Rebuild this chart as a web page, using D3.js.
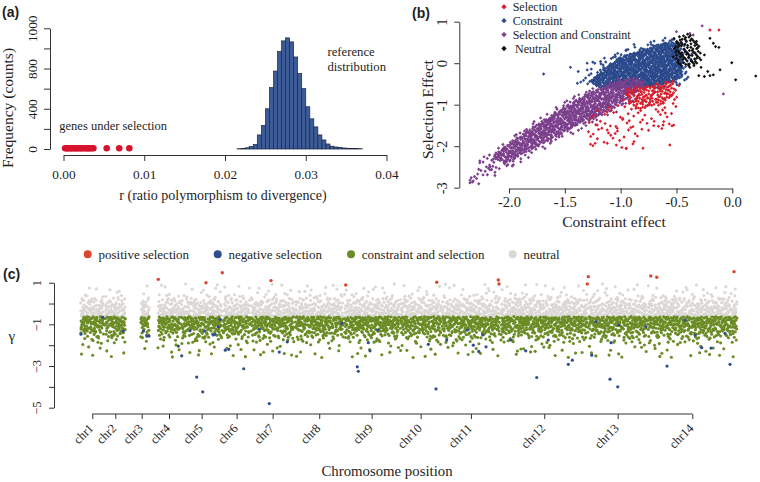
<!DOCTYPE html>
<html><head><meta charset="utf-8">
<script src="https://cdn.jsdelivr.net/npm/d3@7"></script>
<style>
body{margin:0;background:#fff;}
svg{display:block;}
text{font-family:"Liberation Serif","Times New Roman",serif;fill:#1e1e1e;}
.plab{font-family:"Liberation Sans",Arial,sans-serif;font-weight:bold;}
</style></head><body>
<svg id="fig" width="760" height="482"></svg>
<script>
// ================= Panel (a) data =================
const histBinStart = [0.0215,0.0220,0.0225,0.0230,0.0235,0.0240,0.0245,0.0250,0.0255,0.0260,0.0265,0.0270,0.0275,0.0280,0.0285,0.0290,0.0295,0.0300,0.0305,0.0310,0.0315,0.0320,0.0325,0.0330,0.0335,0.0340,0.0345,0.0350,0.0355,0.0360,0.0365];
const histCounts   = [3,6,12,25,45,140,235,400,610,775,970,1075,1105,1065,915,750,600,420,300,220,140,90,50,28,20,15,10,7,5,4,3];
const histBinWidth = 0.0005;
const selectedGenesR = [0.0002,0.0004,0.0005,0.0007,0.0009,0.0010,0.0012,0.0014,0.0015,0.0017,0.0019,0.0021,0.0022,0.0024,0.0026,0.0028,0.0030,0.0031,0.0033,0.0035,0.0037,0.00535,0.0069,0.00815];
const aXTicks = [0,0.01,0.02,0.03,0.04];
const aYTicks = [0,200,400,600,800,1000,1200];
const aYTickLabels = ["0","","400","","800","","1000"];

// ================= Panel (b) data =================
const bXTicks = [-2,-1.5,-1,-0.5,0];
const bYTicks = [-3,-2,-1,0,1];
const bLegend = ["Selection","Constraint","Selection and Constraint","Neutral"];
const bColors = {"Selection":"#d81e2c","Constraint":"#2b4a8c","Selection and Constraint":"#7b3f8c","Neutral":"#111111"};
const bBlueCore   = [[-1.27,-0.45],[-1.2,-0.2],[-1.0,0.15],[-0.8,0.32],[-0.6,0.5],[-0.48,0.5],[-0.45,0.15],[-0.45,-0.35],[-0.6,-0.5],[-0.8,-0.58],[-1.05,-0.6],[-1.2,-0.58]];
const bBlueHalo   = [[-1.4,-0.5],[-1.25,0.05],[-1.0,0.3],[-0.8,0.45],[-0.6,0.62],[-0.42,0.58],[-0.35,0.2],[-0.4,-0.45],[-0.55,-0.58],[-0.9,-0.65],[-1.2,-0.65]];
const bPurpleCore = [[-2.15,-2.25],[-1.9,-1.75],[-1.65,-1.3],[-1.4,-0.88],[-1.2,-0.62],[-1.0,-0.42],[-0.85,-0.35],[-0.78,-0.55],[-0.95,-0.85],[-1.1,-1.12],[-1.35,-1.45],[-1.6,-1.8],[-1.85,-2.15],[-2.05,-2.45]];
const bPurpleHalo = [[-2.4,-2.95],[-2.25,-2.3],[-2.0,-1.85],[-1.75,-1.35],[-1.5,-0.9],[-1.3,-0.6],[-1.1,-0.42],[-0.9,-0.3],[-0.75,-0.5],[-0.85,-0.85],[-1.05,-1.2],[-1.3,-1.55],[-1.55,-1.9],[-1.8,-2.25],[-2.05,-2.6],[-2.3,-2.95]];
const bRedCore    = [[-0.95,-0.62],[-0.8,-0.55],[-0.65,-0.48],[-0.52,-0.4],[-0.52,-0.72],[-0.62,-0.98],[-0.8,-1.12],[-0.95,-0.98]];
const bRedHalo    = [[-1.3,-1.2],[-1.05,-0.92],[-0.95,-0.65],[-0.75,-0.55],[-0.55,-0.4],[-0.45,-0.45],[-0.5,-1.0],[-0.52,-1.55],[-0.7,-1.65],[-0.9,-2.1],[-1.1,-2.0],[-1.3,-2.0]];
const bBlackCore  = [[-0.53,0.62],[-0.4,0.7],[-0.3,0.6],[-0.27,0.1],[-0.33,-0.12],[-0.45,-0.1],[-0.53,0.15]];
const bCloudCounts = {blueCore:900, blueHalo:220, purpleCore:760, purpleHalo:280, redCore:130, redHalo:100, blackCore:90};
// individually readable outliers
const bBlueExtra   = [[-1.69,-0.26],[-1.30,0.0],[-1.18,0.04],[-0.95,0.32],[-1.45,-0.1],[-1.38,-0.2],[-0.88,0.45],[-1.05,0.2]];
const bPurpleExtra = [[-0.27,0.90],[-0.38,0.72],[-0.50,0.76],[-0.08,-0.74],[-0.35,0.68],[-2.35,-2.88],[-2.17,-2.57],[-2.17,-2.5]];
const bRedExtra    = [[-1.27,-1.95],[-1.12,-1.93],[-0.95,-2.05],[-0.80,-2.05],[-0.56,-1.97],[-0.62,-1.49],[-0.54,-1.51],[-1.21,-1.49],[-1.12,-1.61],[-1.03,-1.57],[-0.89,-1.53],[-0.53,-0.97],[-0.12,0.80],[-0.20,0.80],[-0.6,-1.2],[-0.7,-1.4]];
const bBlackExtra  = [[-0.005,0.01],[0.03,-0.40],[0.21,-0.31],[-0.11,-0.16],[-0.17,0.48],[-0.2,0.6],[-0.3,-0.3],[-0.25,-0.32],[-0.2,-0.3],[-0.17,-0.28],[-0.22,-0.2],[-0.28,-0.1],[-0.15,0.4],[-0.25,0.2],[-0.32,0.35],[-0.12,0.38]];

// ================= Panel (c) data =================
const chrNames = ["chr1","chr2","chr3","chr4","chr5","chr6","chr7","chr8","chr9","chr10","chr11","chr12","chr13","chr14"];
const chrEnds  = [172,322,542,704,999,1194,1503,1846,2237,2532,2941,3558,3969,4603];   // gene index
const chrGeneSpans = [[4,168],[176,318],[425,485],[546,700],[708,995],[1003,1190],[1198,1499],[1507,1842],[1850,2233],[2241,2528],[2536,2937],[2945,3554],[3562,3965],[3973,4599]];
const cYTicks = [-5,-4,-3,-2,-1,0,1];
const cYTickLabels = ["\u22125","","\u22123","","\u22121","","1"];
const cLegend = ["positive selection","negative selection","constraint and selection","neutral"];
const cColors = {"positive selection":"#d9472f","negative selection":"#2f4e90","constraint and selection":"#6b8c24","neutral":"#dbd7d4"};
const cGreenShare = 0.56;
const cQuantFrac = [0,0.1,0.2,0.3,0.4,0.5,0.6,0.7,0.8,0.9,0.95,1];
const cGreenQuant = [-0.63,-0.7,-0.78,-0.87,-0.96,-1.05,-1.15,-1.27,-1.42,-1.65,-1.9,-2.6];
const cGreyQuant  = [-0.63,-0.58,-0.5,-0.42,-0.34,-0.25,-0.15,-0.05,0.08,0.25,0.45,0.95];
const cRed  = [[548,1.16],[882,1.0],[996,1.48],[1337,1.10],[1860,0.89],[2497,1.02],[2928,1.13],[2933,0.94],[3551,0.94],[3558,1.29],[3995,1.32],[4037,1.26],[4578,1.53]];
const cBlue = [[7,-1.47],[159,-0.66],[303,-1.32],[443,-1.32],[467,-1.56],[483,-1.56],[688,-2.04],[712,-2.51],[770,-1.31],[817,-3.53],[859,-4.24],[873,-1.32],[933,-1.51],[945,-1.47],[968,-1.12],[980,-0.76],[1017,-2.24],[1041,-2.20],[1146,-3.13],[1253,-1.23],[1325,-4.80],[1395,-2.33],[1451,-1.84],[1832,-0.95],[1941,-3.04],[1948,-3.25],[2018,-1.88],[2030,-2.27],[2084,-1.27],[2438,-1.96],[2492,-4.10],[2567,-1.75],[2711,-1.27],[2753,-2.0],[2791,-2.30],[2819,-1.51],[2842,-2.08],[3015,-1.75],[3120,-2.27],[3197,-3.55],[3278,-1.75],[3418,-2.92],[3446,-2.72],[3582,-2.48],[3612,-0.88],[3710,-3.63],[3717,-1.88],[3764,-4.0],[3771,-1.03],[3962,-1.12],[4109,-3.0],[4235,-0.79],[4305,-1.51],[4352,-2.12],[4417,-2.14],[4515,-1.43],[4550,-2.92]];

// ================= helpers =================
function halton(i, b){ let f=1, r=0; while(i>0){ f/=b; r+=f*(i%b); i=Math.floor(i/b);} return r; }
function fillOutline(poly, n, offset){
  const xs=poly.map(p=>p[0]), ys=poly.map(p=>p[1]);
  const x0=d3.min(xs), x1=d3.max(xs), y0=d3.min(ys), y1=d3.max(ys);
  const out=[]; let i=offset;
  while(out.length<n && i<offset+n*60){ i++;
    const p=[x0+halton(i,2)*(x1-x0), y0+halton(i,3)*(y1-y0)];
    if(d3.polygonContains(poly,p)) out.push(p);
  }
  return out;
}
function styleAxis(g, fs){
  g.attr("font-family",null).attr("font-size",null);
  g.selectAll("path.domain").attr("stroke","#333").attr("stroke-width",1);
  g.selectAll(".tick line").attr("stroke","#333").attr("stroke-width",1);
  g.selectAll("text").style("font-size",fs+"px").style("fill","#1e1e1e");
}
function rotateYLabels(g, k){
  g.selectAll(".tick text").attr("transform","rotate(-90)").attr("x",0).attr("y",-k).attr("dy",0).attr("text-anchor","middle");
}

const svg = d3.select("#fig");

// ================= Panel (a) =================
const xA = d3.scaleLinear().domain([0,0.04]).range([63.5,386.5]);
const yA = d3.scaleLinear().domain([0,1200]).range([149,28.3]);
svg.append("g").selectAll("rect").data(histBinStart).join("rect")
  .attr("x",d=>xA(d)).attr("width",d=>xA(d+histBinWidth)-xA(d))
  .attr("y",(d,i)=>yA(histCounts[i])).attr("height",(d,i)=>yA(0)-yA(histCounts[i]))
  .attr("fill","#3d5b97").attr("stroke","#1c2743").attr("stroke-width",0.7);
svg.append("g").selectAll("circle").data(selectedGenesR).join("circle")
  .attr("cx",d=>xA(d)).attr("cy",yA(0)-0.7).attr("r",3.3).attr("fill","#d7142d");
const axA = svg.append("g").attr("transform","translate(0,155)")
  .call(d3.axisBottom(xA).tickValues(aXTicks).tickSize(6).tickSizeOuter(0).tickFormat(d3.format(".2f")));
styleAxis(axA,13.3); axA.selectAll(".tick text").attr("y",23.5).attr("dy",0);
const ayA = svg.append("g").attr("transform","translate(50,0)")
  .call(d3.axisLeft(yA).tickValues(aYTicks).tickSize(6).tickSizeOuter(0).tickFormat((d,i)=>aYTickLabels[i]));
styleAxis(ayA,13.3); rotateYLabels(ayA,13.5);
svg.append("text").attr("x",59.3).attr("y",130).style("font-size","12.5px").text("genes under selection");
svg.append("text").attr("x",327.5).attr("y",56).style("font-size","12.7px").text("reference");
svg.append("text").attr("x",327.5).attr("y",70.5).style("font-size","12.7px").text("distribution");
svg.append("text").attr("x",223).attr("y",200).attr("text-anchor","middle").style("font-size","14px").text("r (ratio polymorphism to divergence)");
svg.append("text").attr("transform","translate(12.5,108) rotate(-90)").attr("text-anchor","middle").style("font-size","15.5px").text("Frequency (counts)");
svg.append("text").attr("class","plab").attr("x",2).attr("y",17).style("font-size","14px").text("(a)");

// ================= Panel (b) =================
const xB = d3.scaleLinear().domain([-2,0]).range([509,732.3]);
const yB = d3.scaleLinear().domain([-3,1]).range([187.7,21.7]);
const diamond = d3.symbol(d3.symbolSquare, 5.6);
const bSets = [
  {name:"Constraint", pts: fillOutline(bBlueHalo,bCloudCounts.blueHalo,100).concat(fillOutline(bBlueCore,bCloudCounts.blueCore,5000)).concat(bBlueExtra)},
  {name:"Selection and Constraint", pts: fillOutline(bPurpleHalo,bCloudCounts.purpleHalo,20000).concat(fillOutline(bPurpleCore,bCloudCounts.purpleCore,40000)).concat(bPurpleExtra)},
  {name:"Selection", pts: fillOutline(bRedHalo,bCloudCounts.redHalo,70000).concat(fillOutline(bRedCore,bCloudCounts.redCore,90000)).concat(bRedExtra)},
  {name:"Neutral", pts: fillOutline(bBlackCore,bCloudCounts.blackCore,110000).concat(bBlackExtra)}
];
const gB = svg.append("g");
bSets.forEach(s=>{
  gB.append("g").selectAll("path").data(s.pts).join("path")
    .attr("transform",d=>`translate(${xB(d[0])},${yB(d[1])}) rotate(45)`).attr("d",diamond).attr("fill",bColors[s.name]);
});
const axB = svg.append("g").attr("transform","translate(0,188.5)")
  .call(d3.axisBottom(xB).tickValues(bXTicks).tickSize(5).tickSizeOuter(0).tickFormat(d=>d.toFixed(1).replace("\u2212","-")));
styleAxis(axB,14.5); axB.selectAll(".tick text").attr("y",18.3).attr("dy",0);
const ayB = svg.append("g").attr("transform","translate(459.3,0)")
  .call(d3.axisLeft(yB).tickValues(bYTicks).tickSize(5).tickSizeOuter(0).tickFormat(d=>String(d)));
styleAxis(ayB,14.5); rotateYLabels(ayB,12.8);
svg.append("text").attr("x",614).attr("y",226.5).attr("text-anchor","middle").style("font-size","15.5px").text("Constraint effect");
svg.append("text").attr("transform","translate(433,109.5) rotate(-90)").attr("text-anchor","middle").style("font-size","15.5px").text("Selection Effect");
svg.append("text").attr("class","plab").attr("x",412).attr("y",18).style("font-size","14px").text("(b)");
const legB = svg.append("g").selectAll("g").data(bLegend).join("g")
  .attr("transform",(d,i)=>`translate(504,${6.8+i*13.9})`);
legB.append("path").attr("transform","rotate(45)").attr("d",d3.symbol(d3.symbolSquare,14)).attr("fill",d=>bColors[d]);
legB.append("text").attr("x",(d,i)=>i===3?11:8.7).attr("y",4.2).style("font-size","12px").text(d=>d);

// ================= Panel (c) =================
const xC = d3.scaleLinear().domain([0,chrEnds[chrEnds.length-1]]).range([80,737.6]);
const yC = d3.scaleLinear().domain([-5,1]).range([407.7,282.7]);
const greenY = d3.scaleLinear().domain(cQuantFrac).range(cGreenQuant);
const greyY  = d3.scaleLinear().domain(cQuantFrac).range(cGreyQuant);
const greyPts=[], greenPts=[];
let gi=0;
chrGeneSpans.forEach(([s,e])=>{
  const n=Math.round(e-s);
  for(let k=0;k<n;k++){ gi++;
    const x=s+halton(gi,2)*(e-s), u=halton(gi,3);
    if(halton(gi,5)<cGreenShare) greenPts.push([x,greenY(u)]); else greyPts.push([x,greyY(u)]);
  }
});
const gC = svg.append("g");
gC.append("g").selectAll("circle").data(greyPts).join("circle").attr("cx",d=>xC(d[0])).attr("cy",d=>yC(d[1])).attr("r",1.55).attr("fill",cColors["neutral"]);
gC.append("g").selectAll("circle").data(greenPts).join("circle").attr("cx",d=>xC(d[0])).attr("cy",d=>yC(d[1])).attr("r",1.55).attr("fill",cColors["constraint and selection"]);
gC.append("g").selectAll("circle").data(cBlue).join("circle").attr("cx",d=>xC(d[0])).attr("cy",d=>yC(d[1])).attr("r",1.6).attr("fill",cColors["negative selection"]);
gC.append("g").selectAll("circle").data(cRed).join("circle").attr("cx",d=>xC(d[0])).attr("cy",d=>yC(d[1])).attr("r",1.7).attr("fill",cColors["positive selection"]);

const chrMids = chrEnds.map((e,i)=>((i?chrEnds[i-1]:0)+e)/2);
const axC = svg.append("g").attr("transform","translate(0,414)")
  .call(d3.axisBottom(xC).tickValues(chrMids).tickSize(5).tickSizeOuter(0).tickFormat(""));
styleAxis(axC,12);
axC.select("path.domain").attr("d",`M${xC(chrMids[0])},0H${xC(chrMids[chrMids.length-1])}`);
axC.selectAll(".tick").append("text").attr("transform","translate(1.5,15) rotate(-45)")
  .attr("text-anchor","end").style("font-size","12.5px").style("fill","#1e1e1e").text((d,i)=>chrNames[i]);
const ayC = svg.append("g").attr("transform","translate(54,0)")
  .call(d3.axisLeft(yC).tickValues(cYTicks).tickSize(5).tickSizeOuter(0).tickFormat((d,i)=>cYTickLabels[i]));
styleAxis(ayC,12.5); rotateYLabels(ayC,12.6);
svg.append("text").attr("x",387).attr("y",476).attr("text-anchor","middle").style("font-size","14.8px").text("Chromosome position");
svg.append("text").attr("x",11.7).attr("y",341).attr("text-anchor","middle").style("font-size","15px").text("\u03b3");
svg.append("text").attr("class","plab").attr("x",3).attr("y",279).style("font-size","14px").text("(c)");
const legCx = [87.7,217.7,351,512.7];
const legC = svg.append("g").selectAll("g").data(cLegend).join("g").attr("transform",(d,i)=>`translate(${legCx[i]},254.3)`);
legC.append("circle").attr("r",4).attr("fill",d=>cColors[d]);
legC.append("text").attr("x",10.8).attr("y",4.4).style("font-size","13px").text(d=>d);
</script>
</body></html>
